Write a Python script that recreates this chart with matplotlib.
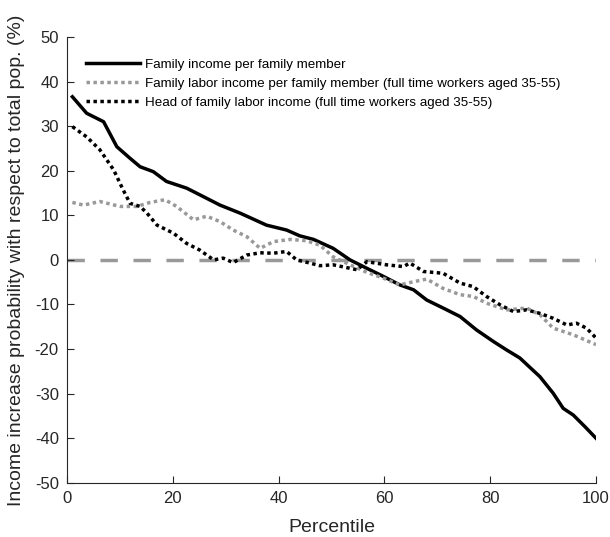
import matplotlib.pyplot as plt
import numpy as np

plt.rcParams['font.family'] = ['Liberation Sans', 'DejaVu Sans']
plt.rcParams['axes.unicode_minus'] = False

# Family income per family member
x_fam = np.array([1, 3.7, 6.9, 9.4, 11.9, 13.8, 16.3, 18.8, 22.6, 25.1, 28.9, 32.7, 37.7, 41.5,
                  44, 46.6, 50.3, 53.5, 56.7, 59.8, 62.9, 65.5, 68, 71.1, 74.3, 77.4, 80.6,
                  83.1, 85.6, 89.4, 91.9, 93.8, 95.7, 97.9, 100])
y_fam = np.array([36.6, 32.9, 31.0, 25.4, 22.8, 20.9, 19.8, 17.6, 16.1, 14.6, 12.3, 10.5, 7.8, 6.7,
                  5.4, 4.6, 2.6, 0.0, -1.9, -3.7, -5.6, -6.7, -9.0, -10.8, -12.7, -15.7, -18.3,
                  -20.2, -22.0, -26.2, -29.9, -33.3, -34.8, -37.4, -40.0])

# Family labor income per family member (full time workers aged 35-55)
x_lab = np.array([1, 3.1, 6.2, 10, 13.2, 15.7, 18.5, 20.7, 23.9, 26.4, 28.9, 31.4, 34, 36.5,
                  39, 42.2, 45.3, 47.8, 50.3, 53.5, 56.7, 59.8, 62.9, 65.5, 68, 71.1, 74.3,
                  76.8, 79.3, 83.1, 86.9, 89.4, 91.9, 95.7, 100])
y_lab = np.array([12.9, 12.3, 13.1, 12.0, 12.0, 12.9, 13.5, 12.0, 9.0, 9.8, 8.6, 6.7, 5.2, 2.6,
                  4.1, 4.6, 4.3, 3.3, 0.7, -1.1, -2.8, -4.1, -5.6, -4.9, -4.3, -6.4, -7.8,
                  -8.2, -9.7, -11.2, -10.8, -12.3, -15.3, -16.8, -19.0])

# Head of family labor income (full time workers aged 35-55)
x_head = np.array([1, 3.7, 6.2, 8.8, 10.6, 11.9, 13.8, 15.1, 17, 20.1, 22.6, 25.1, 27.7, 29.5,
                   31.4, 34, 36.5, 39, 41.5, 43.4, 45.9, 47.8, 50.3, 54.8, 56.7, 60.4, 63.6,
                   64.8, 67.4, 71.1, 74.3, 76.8, 79.3, 81.9, 84.4, 86.9, 89.4, 91.9, 94.5,
                   96.3, 98.2, 100])
y_head = np.array([29.9, 27.6, 24.7, 20.2, 15.7, 12.7, 12.0, 10.5, 7.8, 6.0, 3.7, 2.2, 0.0, 0.4,
                   -0.6, 1.1, 1.6, 1.5, 1.9, 0.0, -0.7, -1.3, -1.1, -2.2, -0.4, -1.1, -1.5,
                   -0.7, -2.6, -3.0, -5.2, -6.0, -8.2, -10.1, -11.6, -11.2, -12.0, -13.1, -14.6,
                   -14.2, -15.3, -17.5])

labels = ['Family income per family member',
          'Family labor income per family member (full time workers aged 35-55)',
          'Head of family labor income (full time workers aged 35-55)']

fig = plt.figure(figsize=(6.1, 5.37), dpi=100)
ax = fig.add_axes([0.110, 0.101, 0.867, 0.830])

ax.plot([0, 100], [0, 0], color='#999999', lw=2.5, dashes=(5, 4.5), zorder=1)
ax.plot(x_fam, y_fam, color='black', lw=2.5, label=labels[0])
ax.plot(x_lab, y_lab, color='#999999', lw=2.5, linestyle=(0, (1, 1)), label=labels[1])
ax.plot(x_head, y_head, color='black', lw=2.5, linestyle=(0, (1, 1)), label=labels[2])

ax.set_xlim(0, 100)
ax.set_ylim(-50, 50)
ax.set_xticks(np.arange(0, 101, 20))
ax.set_yticks(np.arange(-50, 51, 10))
for s in ['top', 'right']:
    ax.spines[s].set_visible(False)
for s in ['left', 'bottom']:
    ax.spines[s].set_color('#262626')
    ax.spines[s].set_linewidth(0.8)
ax.tick_params(direction='in', length=5, width=0.8, colors='#262626', labelsize=12, pad=6)

ax.set_xlabel('Percentile', fontsize=14, color='#262626', labelpad=9)
ax.set_ylabel('Income increase probability with respect to total pop. (%)', fontsize=14,
              color='#262626', labelpad=7)

leg = ax.legend(loc='upper left', bbox_to_anchor=(0.036, 0.952), frameon=False, fontsize=9.65,
                handlelength=4.0, handletextpad=0.37, labelspacing=0.5, borderaxespad=0,
                borderpad=0)

fig.savefig('out.png', dpi=100)
